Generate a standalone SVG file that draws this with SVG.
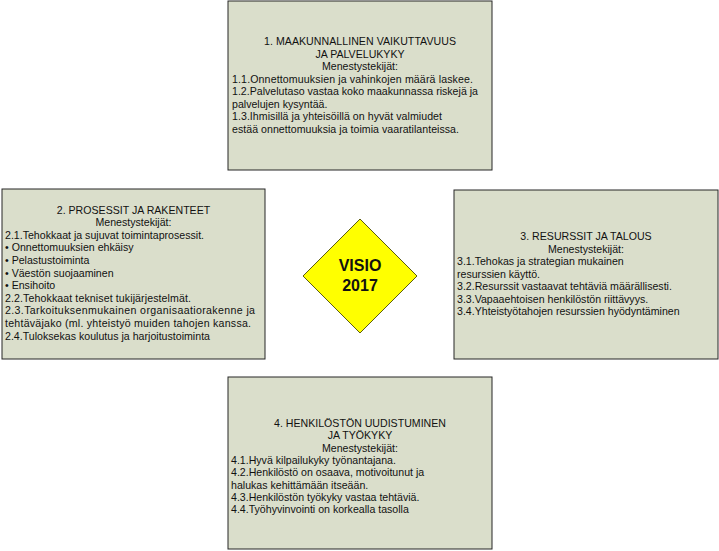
<svg xmlns="http://www.w3.org/2000/svg" width="719" height="551" viewBox="0 0 719 551">
<style>
.box{fill:#dadecb;stroke:#262626;stroke-width:1}
text{font-family:"Liberation Sans",Arial,sans-serif;font-size:10.6px;fill:#111}
.c{text-anchor:middle}
.dia{fill:#ffff00;stroke:#5c5c10;stroke-width:1}
.v{font-size:16px;font-weight:bold;text-anchor:middle}
</style>
<rect width="719" height="551" fill="#ffffff"/>
<g id="connectors"></g>
<g id="node1">
<rect class="box" x="228" y="1" width="264" height="169"/>
<text class="c" x="360" y="45" textLength="192" lengthAdjust="spacing">1. MAAKUNNALLINEN VAIKUTTAVUUS</text>
<text class="c" x="360" y="57.5">JA PALVELUKYKY</text>
<text class="c" x="360" y="70">Menestystekijät:</text>
<text x="232" y="82.5" textLength="241" lengthAdjust="spacing">1.1.Onnettomuuksien ja vahinkojen määrä laskee.</text>
<text x="232" y="95" textLength="246" lengthAdjust="spacing">1.2.Palvelutaso vastaa koko maakunnassa riskejä ja</text>
<text x="232" y="107.5">palvelujen kysyntää.</text>
<text x="232" y="120" textLength="210" lengthAdjust="spacing">1.3.Ihmisillä ja yhteisöillä on hyvät valmiudet</text>
<text x="232" y="132.5" textLength="227" lengthAdjust="spacing">estää onnettomuuksia ja toimia vaaratilanteissa.</text>
</g>
<g id="node2">
<rect class="box" x="2" y="189" width="263" height="170"/>
<text class="c" x="133.5" y="213.5">2. PROSESSIT JA RAKENTEET</text>
<text class="c" x="133.5" y="226.1">Menestystekijät:</text>
<text x="5" y="238.7">2.1.Tehokkaat ja sujuvat toimintaprosessit.</text>
<text x="5" y="251.3">• Onnettomuuksien ehkäisy</text>
<text x="5" y="263.9">• Pelastustoiminta</text>
<text x="5" y="276.5">• Väestön suojaaminen</text>
<text x="5" y="289.1">• Ensihoito</text>
<text x="5" y="301.7" textLength="186" lengthAdjust="spacing">2.2.Tehokkaat tekniset tukijärjestelmät.</text>
<text x="5" y="314.3" textLength="250" lengthAdjust="spacing">2.3.Tarkoituksenmukainen organisaatiorakenne ja</text>
<text x="5" y="326.9" textLength="246" lengthAdjust="spacing">tehtäväjako (ml. yhteistyö muiden tahojen kanssa.</text>
<text x="5" y="339.5" textLength="205" lengthAdjust="spacing">2.4.Tuloksekas koulutus ja harjoitustoiminta</text>
</g>
<g id="node3">
<rect class="box" x="454" y="190" width="264" height="169"/>
<text class="c" x="586" y="240">3. RESURSSIT JA TALOUS</text>
<text class="c" x="586" y="252.5">Menestystekijät:</text>
<text x="457" y="265">3.1.Tehokas ja strategian mukainen</text>
<text x="457" y="277.5">resurssien käyttö.</text>
<text x="457" y="290">3.2.Resurssit vastaavat tehtäviä määrällisesti.</text>
<text x="457" y="302.5">3.3.Vapaaehtoisen henkilöstön riittävyys.</text>
<text x="457" y="315">3.4.Yhteistyötahojen resurssien hyödyntäminen</text>
</g>
<g id="node4">
<rect class="box" x="228" y="377" width="264" height="172"/>
<text class="c" x="360" y="427">4. HENKILÖSTÖN UUDISTUMINEN</text>
<text class="c" x="360" y="439.3">JA TYÖKYKY</text>
<text class="c" x="360" y="451.6">Menestystekijät:</text>
<text x="231" y="463.9">4.1.Hyvä kilpailukyky työnantajana.</text>
<text x="231" y="476.2">4.2.Henkilöstö on osaava, motivoitunut ja</text>
<text x="231" y="488.5">halukas kehittämään itseään.</text>
<text x="231" y="500.8">4.3.Henkilöstön työkyky vastaa tehtäviä.</text>
<text x="231" y="513.1">4.4.Työhyvinvointi on korkealla tasolla</text>
</g>
<g id="visio">
<polygon class="dia" points="360,219 417,276 360,333 303,276"/>
<text class="v" x="360" y="271">VISIO</text>
<text class="v" x="360" y="291">2017</text>
</g>
</svg>
